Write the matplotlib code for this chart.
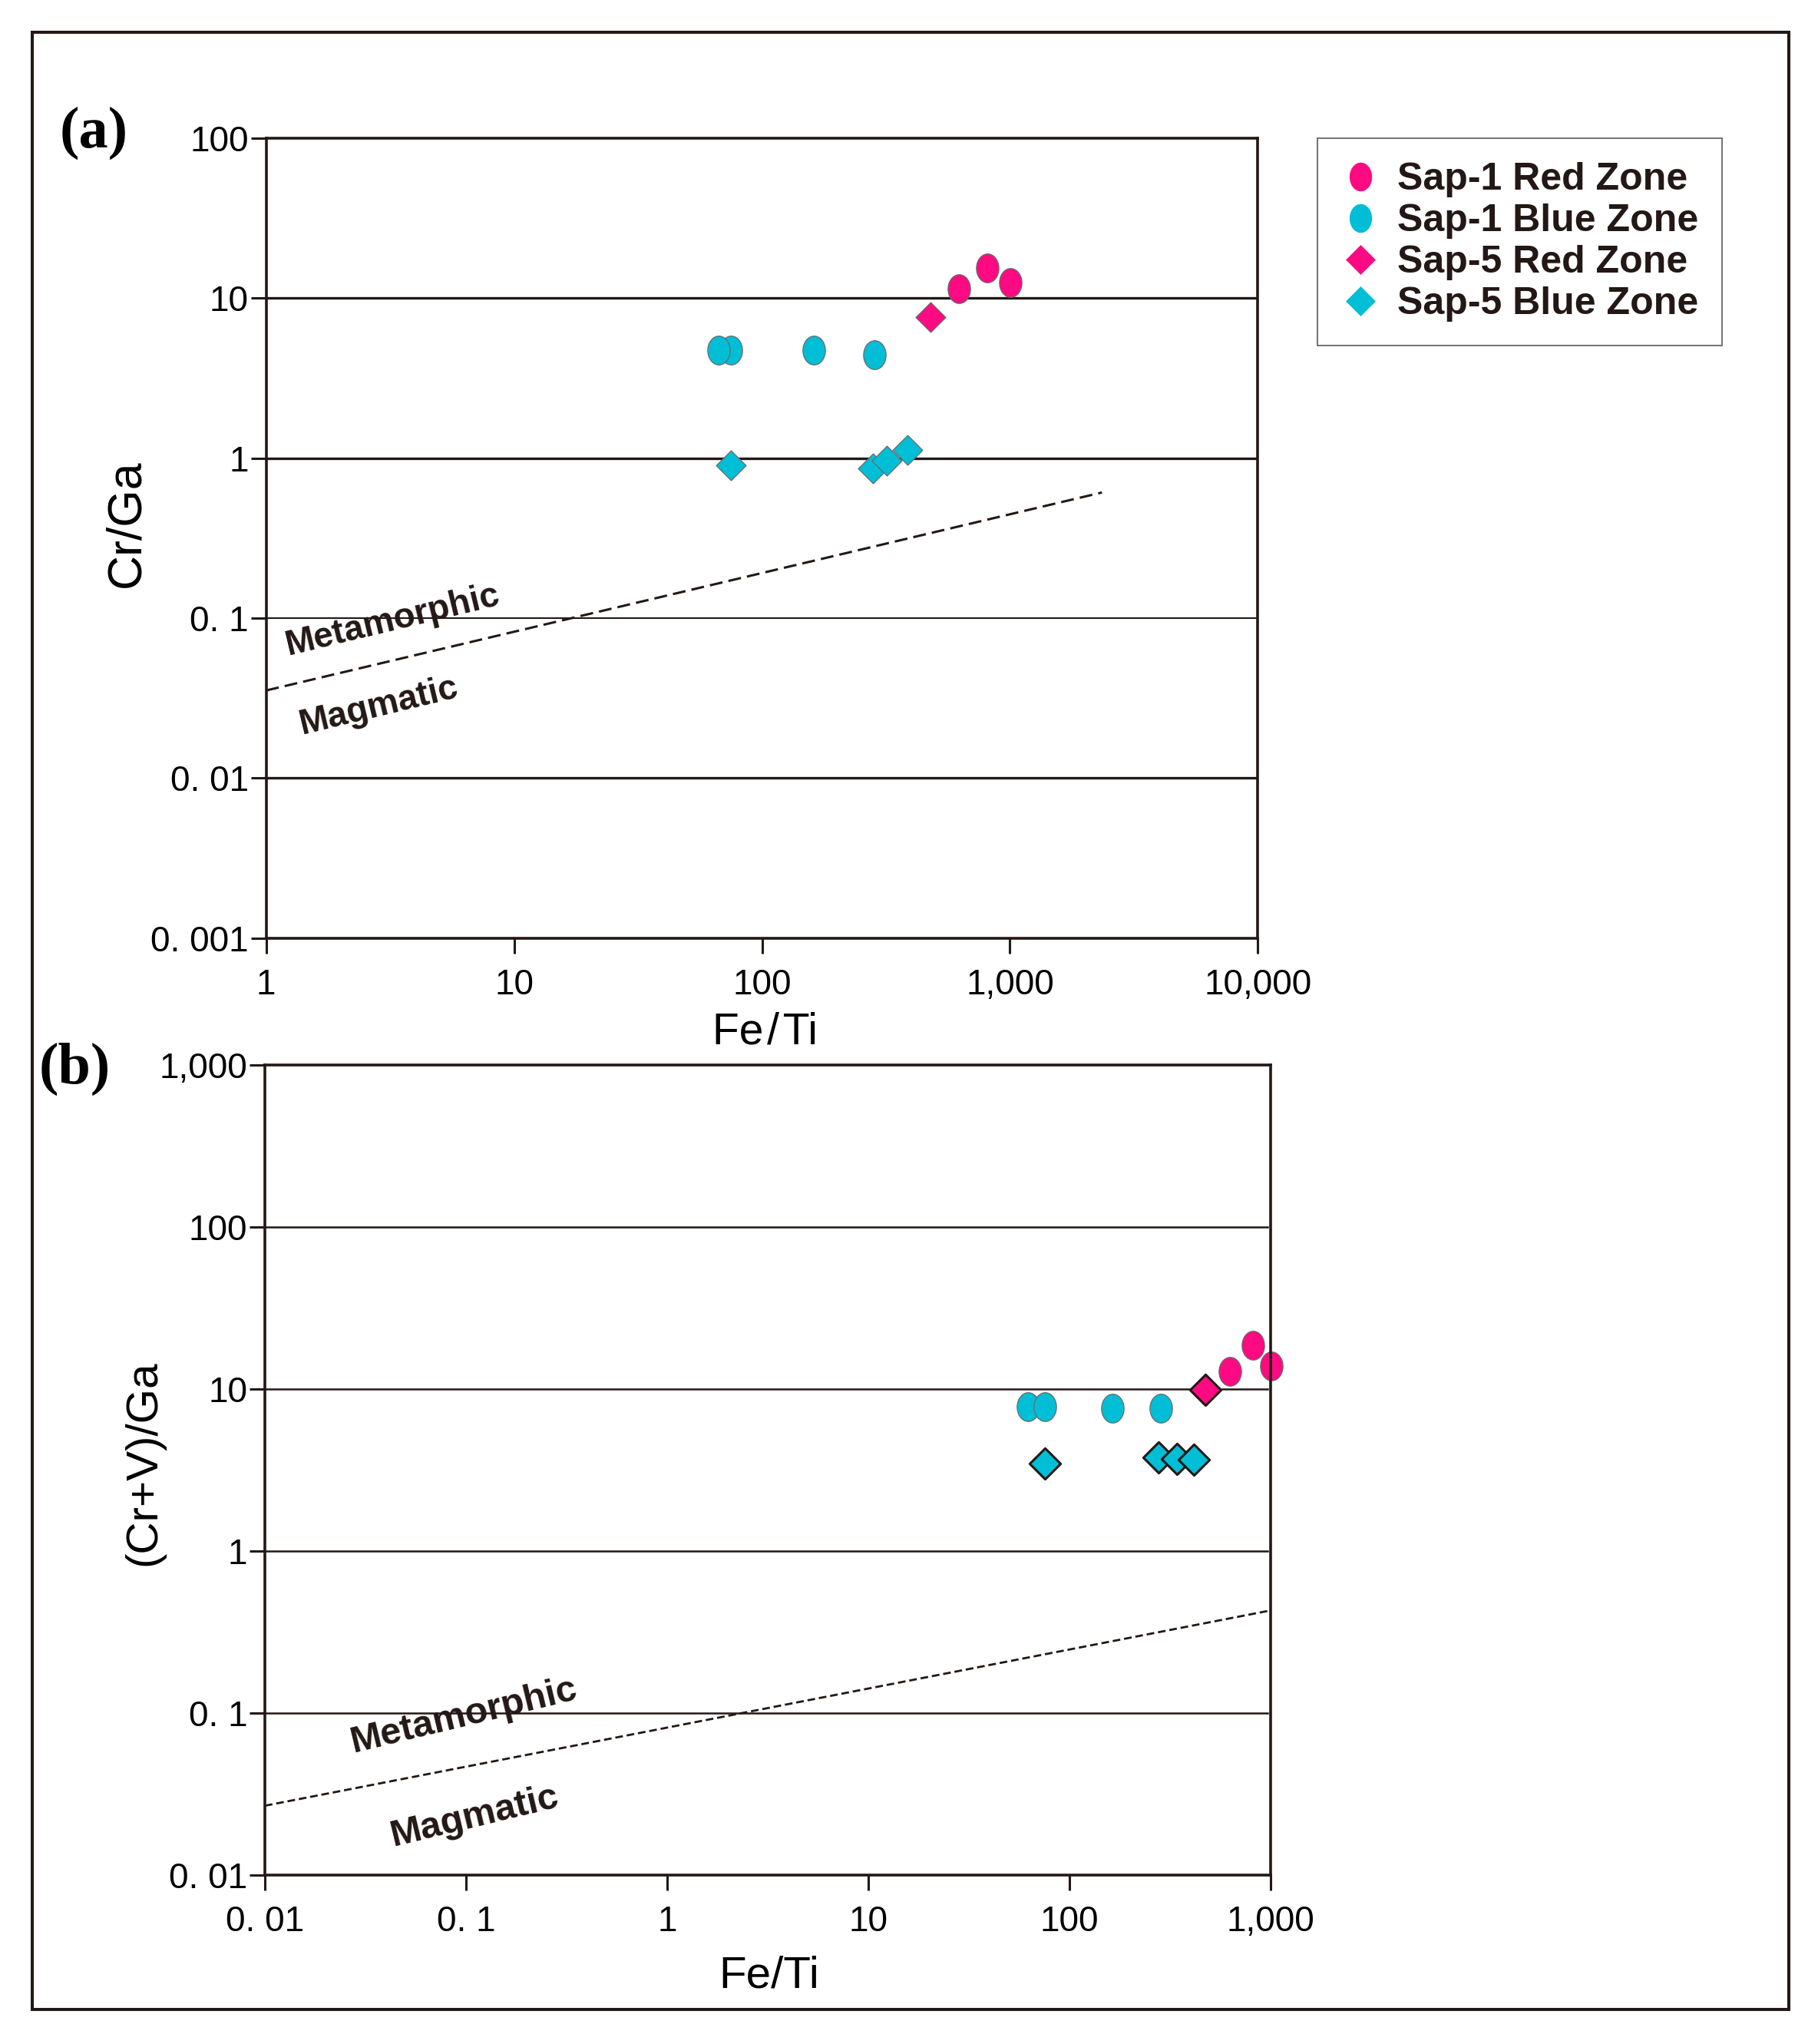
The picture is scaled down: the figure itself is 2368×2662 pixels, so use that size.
import numpy as np
import matplotlib
matplotlib.use("Agg")
import matplotlib.pyplot as plt
from matplotlib.path import Path
from matplotlib.lines import Line2D
from matplotlib.patches import Rectangle
from matplotlib.ticker import FixedLocator, FixedFormatter, NullLocator

# ---------------- data ----------------
# Panel (a): Cr/Ga vs Fe/Ti
a_s1_red_x = [624, 809, 1002]
a_s1_red_y = [11.5, 15.4, 12.5]
a_s1_blue_x = [75, 67, 162, 285]
a_s1_blue_y = [4.75, 4.75, 4.75, 4.42]
a_s5_red_x = [477]
a_s5_red_y = [7.6]
a_s5_blue_x = [75, 281, 387, 319]
a_s5_blue_y = [0.90, 0.86, 1.13, 0.96]
a_line_x = [1, 2350]
a_line_y = [0.0353, 0.61]

# Panel (b): (Cr+V)/Ga vs Fe/Ti
b_s1_red_x = [628, 815, 1008]
b_s1_red_y = [12.8, 18.6, 13.9]
b_s1_blue_x = [62.4, 75.3, 163, 284]
b_s1_blue_y = [7.8, 7.76, 7.59, 7.59]
b_s5_red_x = [474]
b_s5_red_y = [9.9]
b_s5_blue_x = [75.3, 278, 341, 414]
b_s5_blue_y = [3.48, 3.80, 3.70, 3.67]
b_line_x = [0.01, 1000]
b_line_y = [0.0268, 0.43]

a_xticks = [1, 10, 100, 1000, 10000]
a_xticklabels = ["1", "10", "100", "1,000", "10,000"]
a_yticks = [0.001, 0.01, 0.1, 1, 10, 100]
a_yticklabels = ["0. 001", "0. 01", "0. 1", "1", "10", "100"]
a_hlines = [10, 1, 0.1, 0.01]

b_xticks = [0.01, 0.1, 1, 10, 100, 1000]
b_xticklabels = ["0. 01", "0. 1", "1", "10", "100", "1,000"]
b_yticks = [0.01, 0.1, 1, 10, 100, 1000]
b_yticklabels = ["0. 01", "0. 1", "1", "10", "100", "1,000"]
b_hlines = [100, 10, 1, 0.1]

legend_labels = ["Sap-1 Red Zone", "Sap-1 Blue Zone", "Sap-5 Red Zone", "Sap-5 Blue Zone"]

# ---------------- style ----------------
PINK = "#FF0A82"
CYAN = "#00BED6"
INK = "#231815"
plt.rcParams["font.family"] = ["Liberation Sans", "DejaVu Sans"]

t = np.linspace(0, 2 * np.pi, 80)
ELLIPSE = Path(np.column_stack([0.78 * np.cos(t), np.sin(t)]), closed=True)
DIAMOND = Path([(0, 1), (1, 0), (0, -1), (-1, 0), (0, 1)], closed=True)

fig = plt.figure(figsize=(23.68, 26.62), dpi=100)

# outer frame
fig.patches.append(Rectangle((0.0177, 0.0169), 0.9662, 0.9673, transform=fig.transFigure,
                             fill=False, edgecolor=INK, linewidth=2.9, zorder=0))

axa = fig.add_axes([0.1464, 0.54106, 0.5455, 0.39132])
axb = fig.add_axes([0.1457, 0.08264, 0.5532, 0.39632])


def style_axes(ax, xlim, ylim, xt, xtl, yt, ytl):
    ax.set_xscale("log")
    ax.set_yscale("log")
    ax.set_xlim(*xlim)
    ax.set_ylim(*ylim)
    ax.xaxis.set_major_locator(FixedLocator(xt))
    ax.xaxis.set_major_formatter(FixedFormatter(xtl))
    ax.yaxis.set_major_locator(FixedLocator(yt))
    ax.yaxis.set_major_formatter(FixedFormatter(ytl))
    ax.xaxis.set_minor_locator(NullLocator())
    ax.yaxis.set_minor_locator(NullLocator())
    ax.tick_params(axis="both", which="major", direction="out", length=14.4, width=2.2,
                   color=INK, labelsize=33, labelcolor="black")
    ax.tick_params(axis="x", pad=14)
    ax.tick_params(axis="y", pad=2)
    for s in ax.spines.values():
        s.set_linewidth(2.6)
        s.set_color(INK)
    ax.set_facecolor("none")


style_axes(axa, (1, 10000), (0.001, 100), a_xticks, a_xticklabels, a_yticks, a_yticklabels)
style_axes(axb, (0.01, 1000), (0.01, 1000), b_xticks, b_xticklabels, b_yticks, b_yticklabels)

# horizontal reference lines
for v in a_hlines:
    axa.axhline(v, color=INK, linewidth=1.5 if v == 0.1 else 2.4, zorder=1)
for v in b_hlines:
    axb.axhline(v, xmin=0, xmax=0.997, color=INK, linewidth=1.8, zorder=1)

# boundary lines
axa.plot(a_line_x, a_line_y, color=INK, linewidth=2.2, linestyle=(0, (5.5, 2.6)), zorder=1)
axb.plot(b_line_x, b_line_y, color=INK, linewidth=2.0, linestyle=(0, (3.6, 1.8)), zorder=1)

# markers
ms_c = 27
ms_d = 28
ms_db = 29

def pts(ax, x, y, marker, color, ms, ec, ew):
    ax.plot(x, y, linestyle="none", marker=marker, markersize=ms, markerfacecolor=color,
            markeredgecolor=ec, markeredgewidth=ew, clip_on=False, zorder=2)

pts(axa, a_s1_blue_x, a_s1_blue_y, ELLIPSE, CYAN, ms_c, "#6a6a6a", 0.9)
pts(axa, a_s1_red_x, a_s1_red_y, ELLIPSE, PINK, ms_c, "#6a6a6a", 0.9)
pts(axa, a_s5_blue_x, a_s5_blue_y, DIAMOND, CYAN, ms_d, "#6a6a6a", 0.9)
pts(axa, a_s5_red_x, a_s5_red_y, DIAMOND, PINK, ms_d, "#6a6a6a", 0.9)

pts(axb, b_s1_blue_x, b_s1_blue_y, ELLIPSE, CYAN, ms_c, "#6a6a6a", 0.9)
pts(axb, b_s1_red_x, b_s1_red_y, ELLIPSE, PINK, ms_c, "#6a6a6a", 0.9)
pts(axb, b_s5_blue_x, b_s5_blue_y, DIAMOND, CYAN, ms_db, INK, 2.2)
pts(axb, b_s5_red_x, b_s5_red_y, DIAMOND, PINK, ms_db, INK, 2.2)

# axis labels
fig.text(0.0697, 0.7438, "Cr/Ga", rotation=90, ha="center", va="center", fontsize=45)
fig.text(0.4210, 0.4951, "Fe\u200a/\u200aTi", ha="center", va="center", fontsize=41)
fig.text(0.0790, 0.2844, "(Cr+V)/Ga", rotation=90, ha="center", va="center", fontsize=42)
fig.text(0.4231, 0.0334, "Fe/Ti", ha="center", va="center", fontsize=42)

# panel labels
for (x, y, s) in [(0.0518, 0.9347, "(a)"), (0.0410, 0.4770, "(b)")]:
    fig.text(x, y, s, ha="center", va="center", fontsize=55, fontweight="bold",
             family=["Liberation Serif", "DejaVu Serif"])

# field annotations
for (x, y, s, fs) in [(0.2162, 0.6965, "Metamorphic", 33), (0.2086, 0.6544, "Magmatic", 33),
                      (0.2551, 0.1604, "Metamorphic", 35), (0.2610, 0.1112, "Magmatic", 35)]:
    fig.text(x, y, s, ha="center", va="center", rotation=13.5, rotation_mode="anchor",
             fontsize=fs, fontweight="bold", color=INK)

# legend
handles = [
    Line2D([], [], linestyle="none", marker=ELLIPSE, markersize=ms_c, markerfacecolor=PINK,
           markeredgecolor="none"),
    Line2D([], [], linestyle="none", marker=ELLIPSE, markersize=ms_c, markerfacecolor=CYAN,
           markeredgecolor="none"),
    Line2D([], [], linestyle="none", marker=DIAMOND, markersize=ms_d, markerfacecolor=PINK,
           markeredgecolor="none"),
    Line2D([], [], linestyle="none", marker=DIAMOND, markersize=ms_d, markerfacecolor=CYAN,
           markeredgecolor="none"),
]
leg = fig.legend(handles, legend_labels, loc="upper left", bbox_to_anchor=(0.7247, 0.93238),
                 bbox_transform=fig.transFigure, prop={"weight": "bold", "size": 36},
                 frameon=True, fancybox=False, borderpad=0.62, labelspacing=0.16,
                 handlelength=1.0, handletextpad=0.45, borderaxespad=0.0)
leg.get_frame().set_edgecolor("#555555")
leg.get_frame().set_linewidth(1.5)
for txt in leg.get_texts():
    txt.set_color(INK)

fig.savefig("out.png", dpi=100, facecolor="white")
